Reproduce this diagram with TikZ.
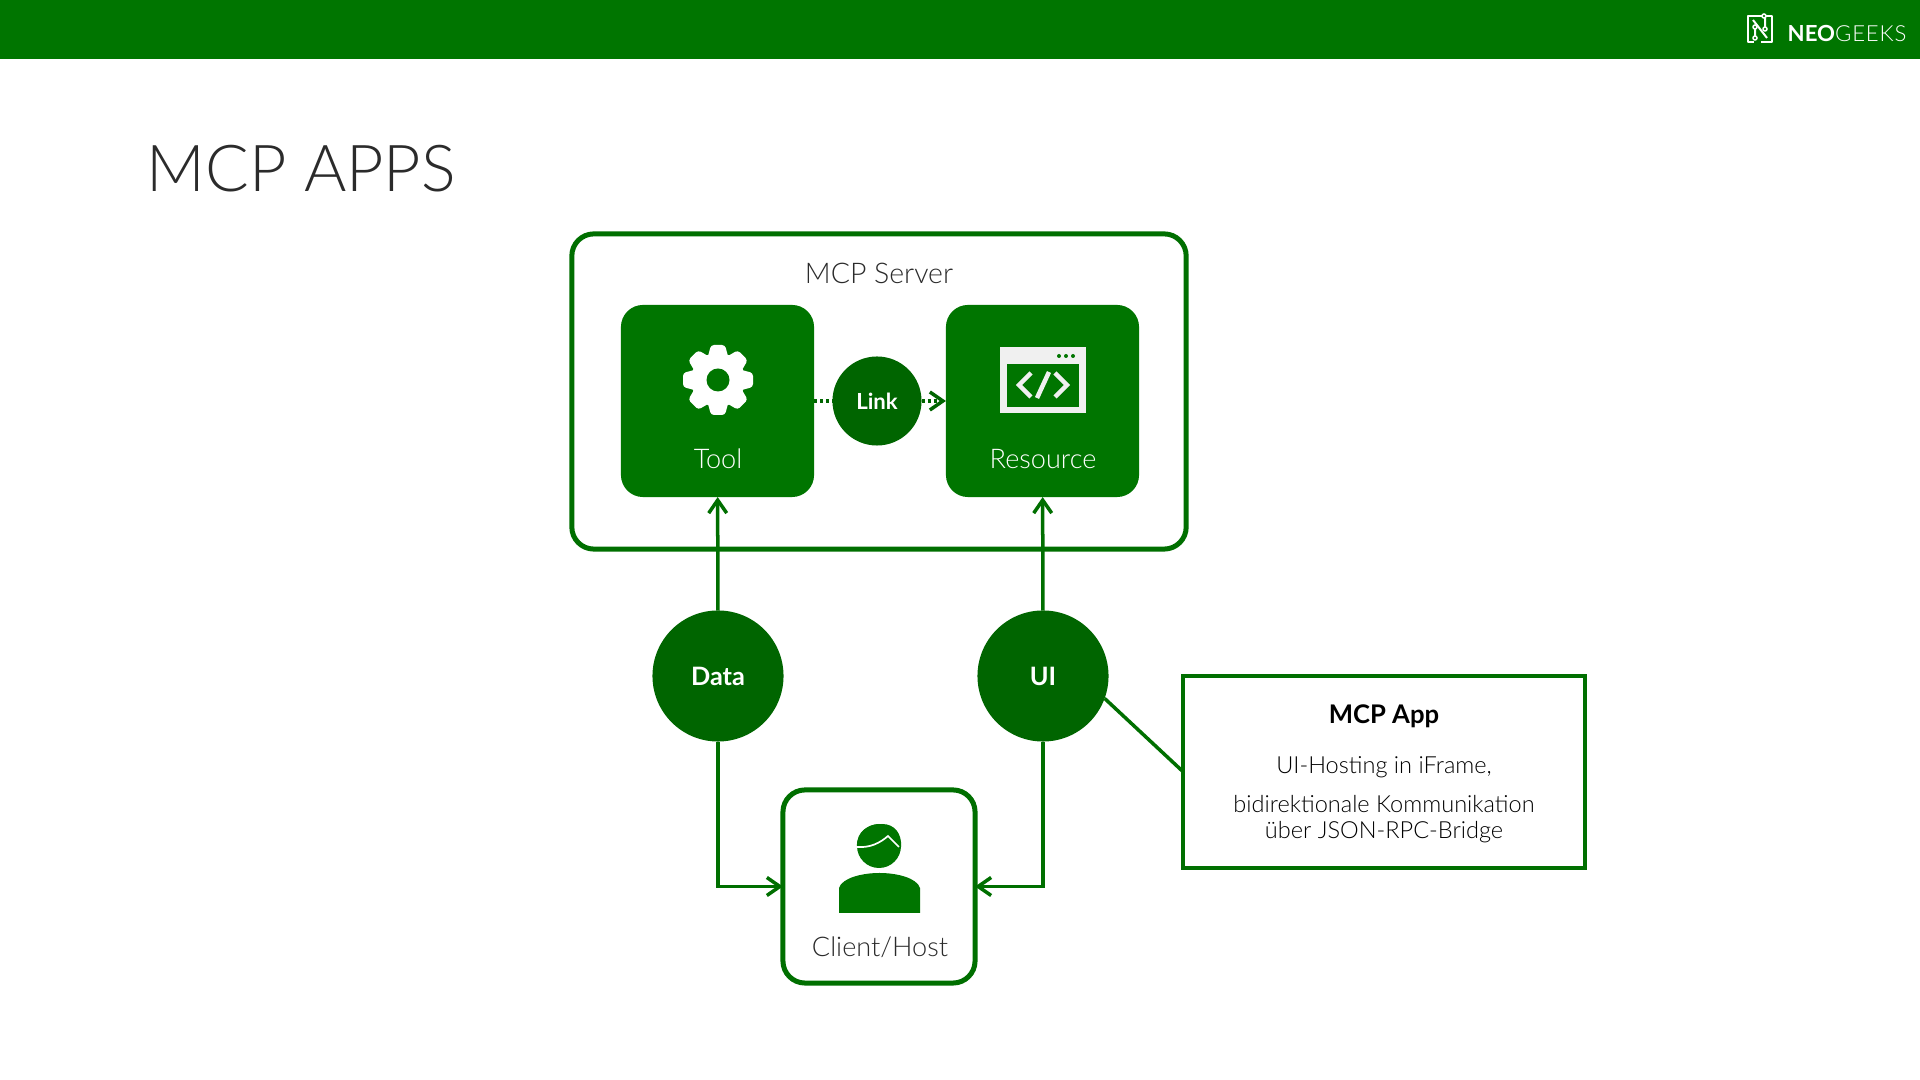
\documentclass[tikz,border=0pt]{standalone}
\usepackage{fontspec}
\setmainfont{Lato}[UprightFont=* Light,BoldFont=* Bold]
\usetikzlibrary{arrows.meta,positioning,calc}
\definecolor{gn}{HTML}{007500}
\definecolor{dk}{HTML}{006500}
\definecolor{ln}{HTML}{006F00}
\definecolor{ink}{HTML}{2B2B2B}
\definecolor{pale}{HTML}{F0F0F0}
\tikzset{
  frame/.style={draw=ln, line width=0.5mm, fill=white, rounded corners=2.2mm, outer sep=0pt, inner sep=0pt},
  tile/.style={fill=gn, rounded corners=2.2mm, minimum width=1.93cm, minimum height=1.92cm, outer sep=0pt, inner sep=0pt},
  hub/.style={circle, fill=dk, text=white, outer sep=0pt, inner sep=0pt, font=\fontsize{7.2}{8}\selectfont\bfseries},
  lbl/.style={inner sep=0pt, font=\fontsize{7.7}{9}\selectfont},
  tipped/.style={-{Straight Barb[length=1.3mm,width=1.8mm,line width=0.35mm]}},
  flow/.style={tipped, ln, line width=0.35mm},
  linkline/.style={dk, line width=0.45mm, dash pattern=on 0.3mm off 0.3mm},
  body/.style={inner sep=0pt, align=center, text=black, font=\fontsize{6.7}{7.6}\selectfont},
}
\newcommand{\gear}[2]{%
  \foreach \a in {0,45,...,315} {%
    \fill[white, rounded corners=0.3mm, rotate around={\a:(#1,#2)}] ($(#1,#2)+(-7,-35)$) -- ($(#1,#2)+(7,-35)$) -- ($(#1,#2)+(11,-20)$) -- ($(#1,#2)+(-11,-20)$) -- cycle;
  }
  \fill[white] (#1,#2) circle (27);
  \fill[gn] (#1,#2) circle (11.5);}
\begin{document}
\begin{tikzpicture}[x=0.01cm,y=-0.01cm]
  \useasboundingbox (0,0) rectangle (1920,1080);
  \fill[gn] (0,0) rectangle (1920,59);
  % logo
  \draw[white, line width=0.2mm, line join=round] (1762,16) -- (1748,16) -- (1748,42) -- (1754,42) (1766,16) -- (1772,16) -- (1772,42) -- (1761,42);
  \draw[white, line width=0.2mm] (1753,20) -- (1767,38) (1755,28) -- (1755,36) (1765,16) -- (1765,28);
  \foreach \x/\y in {1764/16,1755/27,1765/29,1755/38} \draw[white, line width=0.15mm, fill=gn] (\x,\y) circle (2);
  \node[anchor=base west, inner sep=0pt, text=white, font=\fontsize{6.3}{7}\selectfont] (brand) at (1787,42) {\textbf{NEO}\addfontfeature{LetterSpace=4}GEEKS};
  \node[anchor=base west, inner sep=0pt, text=ink, font=\fontsize{18.4}{22}\selectfont] (title) at (146,192) {MCP APPS};
  % server
  \node[frame, minimum width=6.14cm, minimum height=3.15cm] (server) at (879,391.5) {};
  \node[lbl, text=ink, font=\fontsize{8.1}{9}\selectfont] (srvlbl) at (879,273) {MCP Server};
  \node[tile] (tool) at (717.5,401) {};
  \node[tile] (res) at (1042.5,401) {};
  \gear{718}{380}
  \fill[pale] (1000,347) rectangle (1086,413);
  \fill[gn] (1007,364) rectangle (1079,407);
  \foreach \x in {1059,1066,1073} \fill[gn] (\x,356) circle (2);
  \draw[pale, line width=0.45mm] (1031,373) -- (1019,385) -- (1031,397) (1037,398) -- (1049,372) (1055,373) -- (1067,385) -- (1055,397);
  \node[lbl, text=white] (toollbl) at (718,459) {Tool};
  \node[lbl, text=white] (reslbl) at (1043,459) {Resource};
  \node[hub, minimum size=0.89cm, font=\fontsize{6.3}{7}\selectfont\bfseries] (link) at (877,401) {Link};
  \draw[linkline] (tool) -- (link);
  \draw[linkline, tipped] (link) -- (res);
  % hubs
  \node[hub, minimum size=1.31cm] (data) at (718,676) {Data};
  \node[hub, minimum size=1.31cm] (ui) at (1043,676) {UI};
  % client
  \node[frame, minimum width=1.92cm, minimum height=1.93cm] (client) at (879,886.5) {};
  \fill[gn] (839,913) -- (839,888) .. controls (842,878) and (862,873) .. (879.5,873) .. controls (897,873) and (917,878) .. (920,888) -- (920,913) -- cycle;
  \fill[gn] (879,846) circle (22);
  \fill[gn] (857,847) .. controls (856,830) and (870,824) .. (882,824) .. controls (895,824) and (902,834) .. (901,847) -- (888,836) .. controls (880,842) and (870,847) .. cycle;
  \draw[white, line width=0.17mm] (857,847) .. controls (870,848) and (880,843) .. (888,836) -- (899,847);
  \node[lbl, text=ink] (clientlbl) at (880,947) {Client/Host};
  \draw[flow] (data) -- (tool);
  \draw[flow] (ui) -- (res);
  \draw[flow] (data) |- (client);
  \draw[flow] (ui) |- (client);
  % note
  \node[draw=ln, line width=0.4mm, fill=white, minimum width=4.01cm, minimum height=1.91cm, outer sep=0pt] (note) at (1384,772) {};
  \draw[ln, line width=0.35mm] (ui.-20) -- (note.west);
  \node[inner sep=0pt, text=black, font=\fontsize{7.3}{8}\selectfont\bfseries] (notehead) at (1384,716) {MCP App};
  \node[body] (noteone) at (1384,767) {UI-Hosting in iFrame,};
  \node[body] (notetwo) at (1384,819) {bidirektionale Kommunikation\\über JSON-RPC-Bridge};
\end{tikzpicture}
\end{document}
